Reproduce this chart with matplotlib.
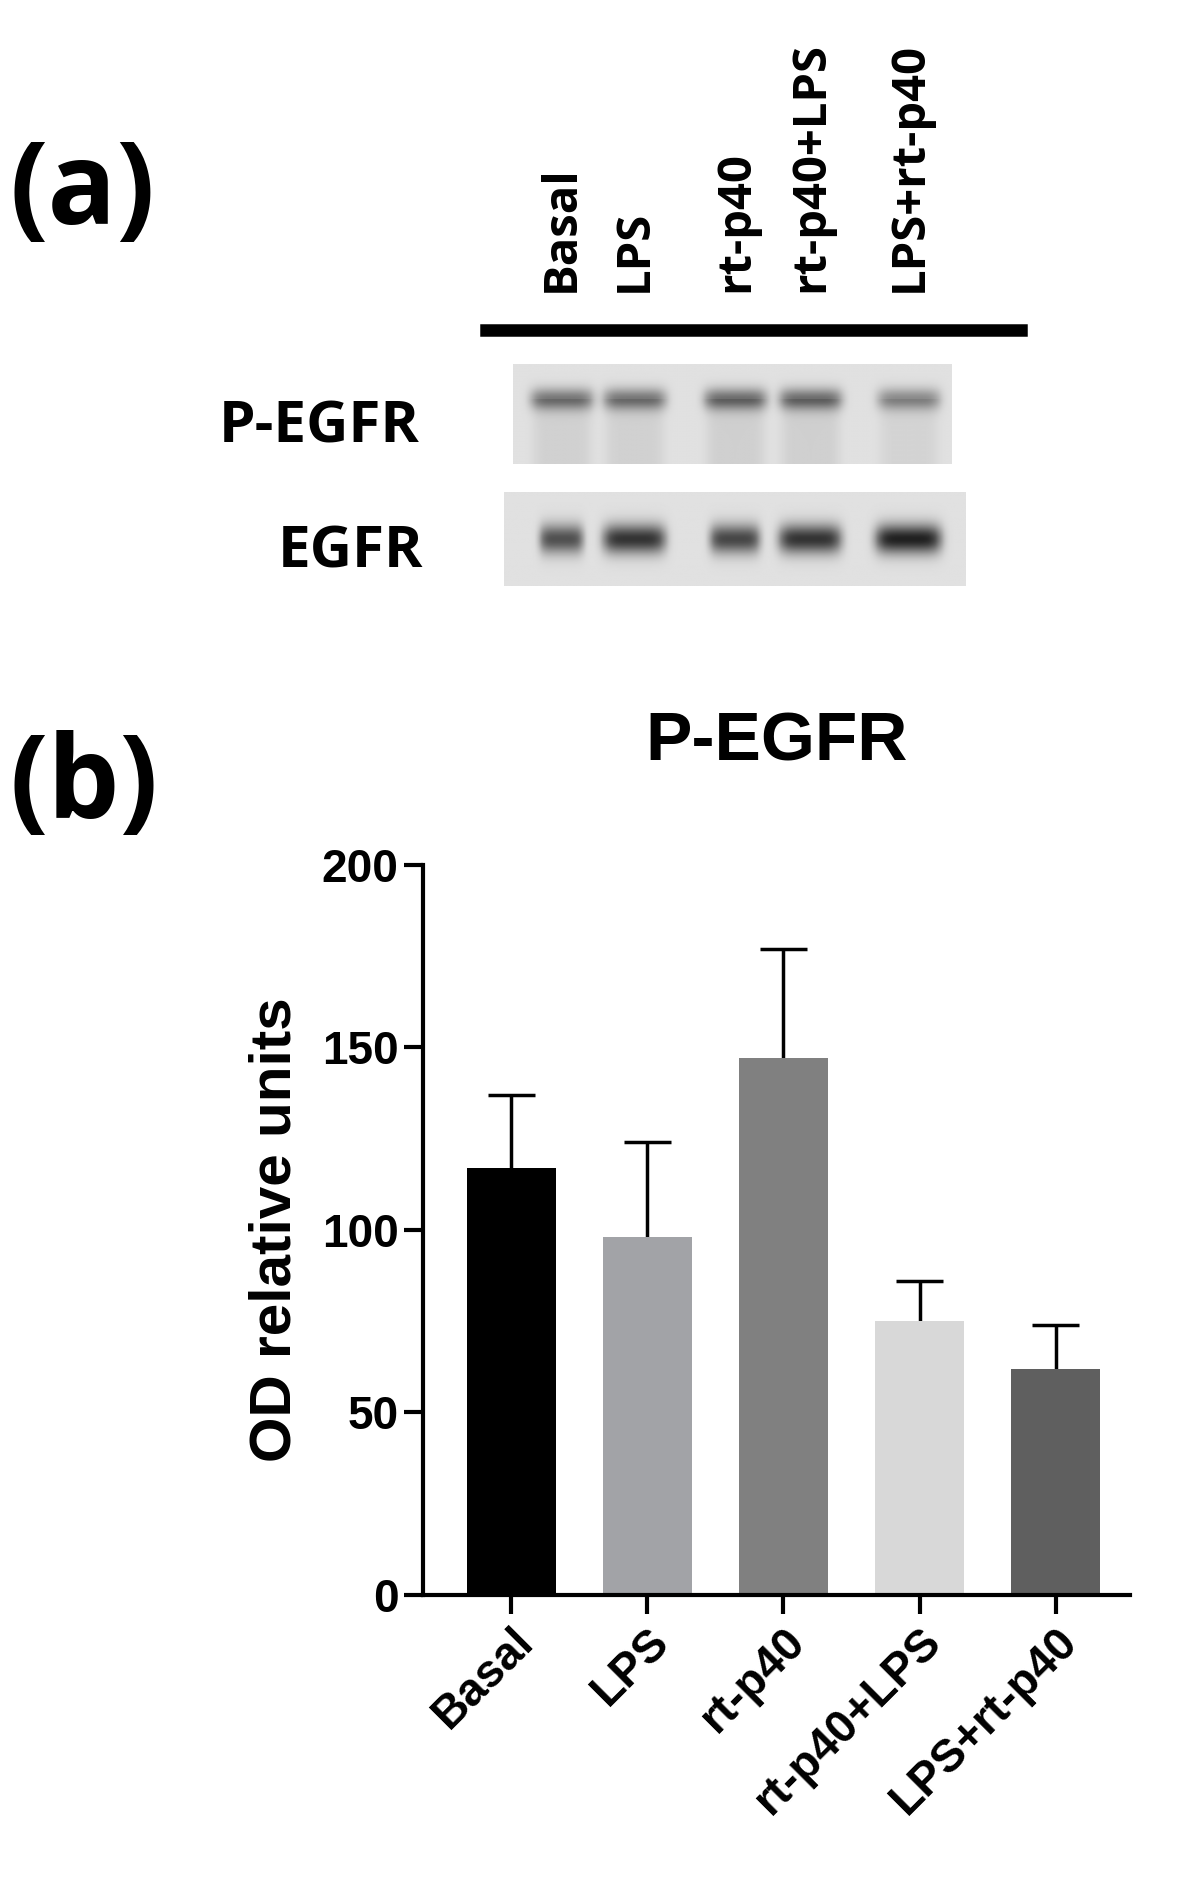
import numpy as np
import matplotlib.pyplot as plt

# OD data
groups = ["Basal", "LPS", "rt-p40", "rt-p40+LPS", "LPS+rt-p40"]
means = [117, 98, 147, 75, 62]
errors = [20, 26, 30, 11, 12]
bar_colors = ["#000000", "#a2a3a7", "#808080", "#d8d8d8", "#5f5f5f"]

# relative band intensities for the blot (panel a)
p_egfr_int = [0.55, 0.55, 0.6, 0.6, 0.45]
egfr_int = [0.75, 0.9, 0.8, 0.9, 1.0]
egfr_width = [0.7, 1.0, 0.8, 1.0, 1.05]

plt.rcParams['font.family'] = ['Liberation Sans', 'DejaVu Sans']
fig = plt.figure(figsize=(11.79, 18.95), dpi=100)
W, H = 970.0, 1560.0  # layout in reference-screen units
OPEN = ['Open Sans', 'DejaVu Sans']


def fx(x):
    return x / W


def fy(y):
    return 1 - y / H


# ---- panel (a): blot ----
fig.text(fx(8), fy(160), "(a)", fontsize=82, fontweight='bold', va='center', family=OPEN)
fig.text(fx(8), fy(648), "(b)", fontsize=82, fontweight='bold', va='center', family=OPEN)

lane_x = [462, 522, 605, 667, 748]
for lab, x in zip(groups, lane_x):
    fig.text(fx(x), fy(240), lab, rotation=90, fontsize=34, fontweight='bold',
             ha='center', va='bottom', family=OPEN)
fig.add_artist(plt.Line2D([fx(400), fx(840)], [fy(272), fy(272)], color='black', lw=9))

fig.text(fx(345), fy(352), "P-EGFR", fontsize=42, fontweight='bold', ha='right',
         va='center', family=OPEN)
fig.text(fx(348), fy(455), "EGFR", fontsize=42, fontweight='bold', ha='right',
         va='center', family=OPEN)


def blot(ax, x0, x1, y0, y1, lanes, ints, widths, sy, smear):
    xs = np.linspace(x0, x1, 400)
    ys = np.linspace(y0, y1, 120)
    X, Y = np.meshgrid(xs, ys)
    yc = (y0 + y1) / 2 - (y1 - y0) * (0.15 if smear else 0)
    img = np.zeros_like(X)
    for lx, a, w in zip(lanes, ints, widths):
        img += a * np.exp(-((X - lx) / (26 * w)) ** 6) * np.exp(-((Y - yc) / sy) ** 2)
        if smear:
            img += 0.15 * a * np.exp(-((X - lx) / 24) ** 6) * (Y > yc)
    ax.imshow(1 - 0.12 - 0.75 * np.clip(img, 0, 1), cmap='gray', vmin=0, vmax=1,
              extent=[x0, x1, y1, y0], aspect='auto')


ax_a = fig.add_axes([0, 0, 1, 1])
blot(ax_a, 422, 783, 300, 382, lane_x, p_egfr_int, [1] * 5, 9, True)
blot(ax_a, 415, 795, 405, 482, lane_x, egfr_int, egfr_width, 12, False)
ax_a.set_xlim(0, W)
ax_a.set_ylim(H, 0)
ax_a.axis('off')

# ---- panel (b): bar chart ----
ax = fig.add_axes([fx(348), fy(1313), fx(930 - 348), fy(712) - fy(1313)])
x = np.arange(len(groups))
tops = np.array(means) + np.array(errors)
ax.bar(x, means, width=0.66, color=bar_colors, zorder=2)
ax.vlines(x, means, tops, color='black', lw=2.5, zorder=1)
ax.hlines(tops, x - 0.17, x + 0.17, color='black', lw=2.5, zorder=1)
ax.set_xlim(-0.65, 4.55)
ax.set_ylim(0, 200)
ax.set_yticks([0, 50, 100, 150, 200])
ax.set_xticks(x)
ax.set_xticklabels(groups, rotation=45, ha='right', rotation_mode='anchor')
ax.tick_params(axis='both', labelsize=33, width=3, length=14)
for t in ax.get_xticklabels() + ax.get_yticklabels():
    t.set_fontweight('bold')
ax.spines['top'].set_visible(False)
ax.spines['right'].set_visible(False)
ax.spines['left'].set_linewidth(3)
ax.spines['bottom'].set_linewidth(3)
ax.set_ylabel("OD relative units", fontsize=42, fontweight='bold', labelpad=14)
ax.set_title("P-EGFR", fontsize=50, fontweight='bold', pad=75)

fig.savefig("out.png", dpi=100)
